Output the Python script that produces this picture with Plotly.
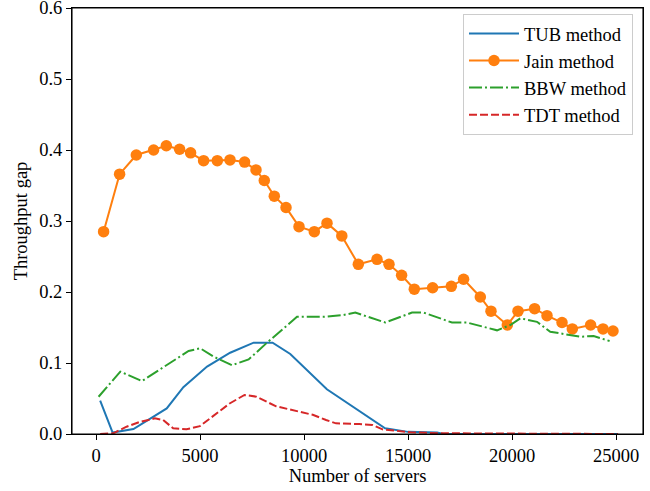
import plotly.graph_objects as go

# ---- data ----
tub_x = [200, 800, 1800, 3400, 4200, 5340, 6450, 7580, 8490, 9340, 11100, 13900, 15000, 16400, 16700, 25100]
tub_y = [0.047, 0.002, 0.007, 0.036, 0.066, 0.095, 0.1145, 0.1286, 0.1286, 0.1127, 0.063, 0.008, 0.003, 0.002, 0.0, 0.0]

jain_x = [365, 1135, 1938, 2769, 3380, 4019, 4548, 5173, 5832, 6442, 7144, 7692, 8091, 8572,
          9135, 9760, 10495, 11106, 11817, 12611, 13510, 14087, 14692, 15303, 16183, 17082,
          17673, 18476, 18990, 19774, 20288, 21087, 21683, 22404, 22899, 23779, 24375, 24856]
jain_y = [0.285, 0.366, 0.393, 0.400, 0.406, 0.401, 0.396, 0.385, 0.385, 0.386, 0.383, 0.372,
          0.357, 0.335, 0.319, 0.292, 0.285, 0.297, 0.279, 0.239, 0.246, 0.239, 0.2235, 0.204,
          0.206, 0.208, 0.218, 0.193, 0.173, 0.1535, 0.173, 0.1765, 0.1667, 0.157, 0.148,
          0.1535, 0.148, 0.145]

bbw_x = [125, 1168, 2212, 3100, 4452, 5014, 5654, 6538, 7337, 8221, 9663, 10942, 11904, 12466,
         13909, 15192, 15750, 17115, 17837, 19279, 19918, 20399, 21202, 21841, 23284, 23923, 24692]
bbw_y = [0.0525, 0.0878, 0.0746, 0.091, 0.117, 0.1207, 0.109, 0.097, 0.105, 0.1286, 0.165, 0.165,
         0.1676, 0.171, 0.157, 0.171, 0.171, 0.157, 0.157, 0.146, 0.1535, 0.163, 0.158, 0.144,
         0.137, 0.138, 0.131]

tdt_x = [200, 830, 1470, 2110, 2830, 3230, 3710, 4350, 4990, 5785, 6425, 7140, 7700, 8660, 9460,
         10420, 11060, 11540, 12660, 13290, 13770, 15110, 16635, 25100]
tdt_y = [0.0, 0.001, 0.0103, 0.017, 0.022, 0.0197, 0.008, 0.0066, 0.011, 0.029, 0.043, 0.055,
         0.0526, 0.039, 0.034, 0.027, 0.0197, 0.015, 0.014, 0.0127, 0.0066, 0.0024, 0.001, 0.0]

x_ticks = [0, 5000, 10000, 15000, 20000, 25000]
y_ticks = [0.0, 0.1, 0.2, 0.3, 0.4, 0.5, 0.6]

names = ["TUB method", "Jain method", "BBW method", "TDT method"]
colors = ["#1f77b4", "#ff7f0e", "#2ca02c", "#d62728"]

FONT = "Liberation Serif, Times New Roman, serif"
FS = 18.5

fig = go.Figure()
fig.add_trace(go.Scatter(x=tub_x, y=tub_y, mode="lines", name=names[0], legendgroup="a",
                         line=dict(color=colors[0], width=2)))
fig.add_trace(go.Scatter(x=jain_x, y=jain_y, mode="lines+markers", name=names[1], legendgroup="b",
                         line=dict(color=colors[1], width=2),
                         marker=dict(color=colors[1], size=11.5, line=dict(width=0))))
fig.add_trace(go.Scatter(x=bbw_x, y=bbw_y, mode="lines", name=names[2], legendgroup="c",
                         line=dict(color=colors[2], width=2, dash="13px,3px,2px,3px")))
fig.add_trace(go.Scatter(x=tdt_x, y=tdt_y, mode="lines", name=names[3], legendgroup="d",
                         line=dict(color=colors[3], width=2, dash="8px,3px")))

axis_common = dict(showline=True, linecolor="black", linewidth=1.1, mirror=True,
                   ticks="outside", ticklen=5, tickwidth=1.1, tickcolor="black",
                   showgrid=False, zeroline=False, automargin=False,
                   ticklabeloverflow="allow",
                   tickfont=dict(family=FONT, size=FS, color="black"))

fig.update_xaxes(range=[-1154, 26298], tickvals=x_ticks, ticktext=[str(v) for v in x_ticks],
                 title=dict(text="Number of servers", font=dict(family=FONT, size=FS, color="black"),
                            standoff=2),
                 **axis_common)
fig.update_yaxes(range=[0, 0.6], tickvals=y_ticks, ticktext=[f"{v:.1f}" for v in y_ticks],
                 title=dict(text="Throughput gap", font=dict(family=FONT, size=FS, color="black"),
                            standoff=6),
                 **axis_common)

# axes frame (matplotlib-style box)
fig.add_shape(type="rect", xref="paper", yref="paper", x0=0, x1=1, y0=0, y1=1,
              line=dict(color="black", width=1.1), layer="above")

fig.update_layout(
    width=650, height=491,
    margin=dict(l=72, r=7, t=8, b=57),
    plot_bgcolor="white", paper_bgcolor="white",
    font=dict(family=FONT, size=FS, color="black"),
    legend=dict(x=0.9825, y=0.986, xanchor="right", yanchor="top",
                bgcolor="rgba(255,255,255,0.8)", bordercolor="#cccccc", borderwidth=1,
                tracegroupgap=0, font=dict(family=FONT, size=FS, color="black"),
                itemwidth=50),
    showlegend=True,
)

# remove the browser's default body margin so the figure sits at the page origin
fig.write_html("out.html", config={"displayModeBar": False},
               post_script="document.body.style.margin='0';document.body.style.overflow='hidden';")
